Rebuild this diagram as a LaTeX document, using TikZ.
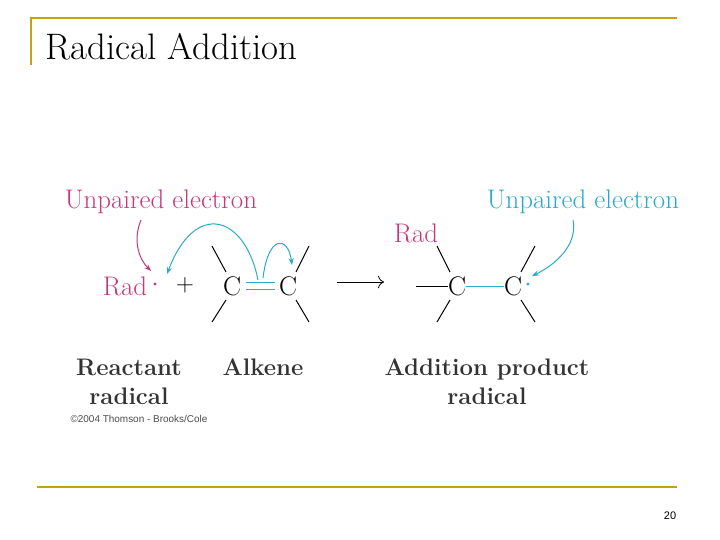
\documentclass[tikz,border=0pt]{standalone}
\usepackage{fontspec}
\newfontfamily\arialfont{Liberation Sans}
\usetikzlibrary{arrows.meta}
\definecolor{radmag}{RGB}{200,55,125}
\definecolor{elcyan}{RGB}{40,170,200}
\definecolor{framegold}{RGB}{200,160,20}
\tikzset{
  atom/.style={font=\fontsize{27}{30}\selectfont, inner sep=0pt},
  lbl/.style={font=\fontsize{24}{29}\selectfont\bfseries, align=center, text=black!80},
  bond/.style={line width=1pt},
  push/.style={line width=1pt, -{Stealth[length=7pt]}},
}
\begin{document}
\begin{tikzpicture}[x=1bp,y=-1bp]
  \useasboundingbox (0,0) rectangle (720,540);
  % frame
  \draw[framegold, line width=2pt] (31,65) -- (31,18) -- (677,18);
  \draw[framegold, line width=2pt] (37,487) -- (677,487);
  \node[anchor=base west, font=\fontsize{37}{40}\selectfont] (title) at (42,60) {Radical Addition};
  \node[font=\arialfont\fontsize{11}{13}\selectfont] (page) at (670,516) {20};

  % reactants
  \node[atom, text=radmag] (rad) at (125,286) {Rad};
  \fill[radmag] (155,284) circle (1.7) coordinate (rdot);
  \node[atom] (plus) at (185,285) {$+$};
  \node[atom] (ca) at (232,286) {C};
  \node[atom] (cb) at (288,286) {C};
  \draw[bond, elcyan] (246,282) -- (275,282);
  \draw[bond, elcyan] (246,289) -- (275,289);
  \draw[bond] (212,246) -- (226,272);
  \draw[bond] (226,300) -- (212,322);
  \draw[bond] (296,272) -- (309,246);
  \draw[bond] (296,300) -- (309,322);
  \draw[-{To[length=6pt]}, line width=0.8pt] (337,282) -- (384,282);

  % product
  \node[atom, text=radmag] (prad) at (416,233) {Rad};
  \node[atom] (pa) at (457,286) {C};
  \node[atom] (pb) at (513,286) {C};
  \fill[elcyan] (528,284) circle (1.7) coordinate (pdot);
  \draw[bond] (416,286) -- (pa);
  \draw[bond, elcyan] (pa) -- (pb);
  \draw[bond] (437,246) -- (450,272);
  \draw[bond] (450,300) -- (437,322);
  \draw[bond] (521,272) -- (535,246);
  \draw[bond] (521,300) -- (535,322);

  % labels
  \node[atom, text=radmag] (ue1) at (161,202) {Unpaired electron};
  \node[atom, text=elcyan] (ue2) at (583,202) {Unpaired electron};
  \node[lbl] (l1) at (129,382) {Reactant\\radical};
  \node[lbl] (l2) at (263,367) {Alkene};
  \node[lbl] (l3) at (487,382) {Addition product\\radical};
  \node[font=\arialfont\fontsize{10}{12}\selectfont, text=black!70] (copy) at (139,419) {\copyright2004 Thomson - Brooks/Cole};

  % electron pushing
  \draw[push, radmag] (141,220) .. controls (132,242) and (140,260) .. (151,271);
  \draw[push, elcyan] (258,280) .. controls (245,215) and (195,200) .. (167,274);
  \draw[push, elcyan] (263,278) .. controls (268,235) and (288,235) .. (292,265);
  \draw[push, elcyan] (573,220) .. controls (578,245) and (555,265) .. (532,276);
\end{tikzpicture}
\end{document}
